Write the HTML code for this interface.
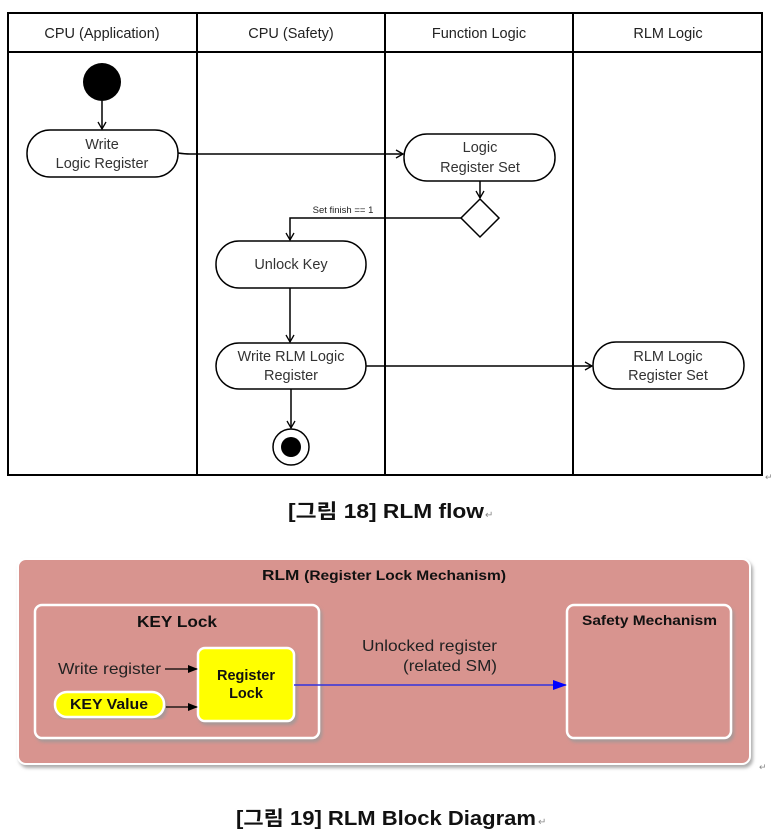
<!DOCTYPE html>
<html><head><meta charset="utf-8"><style>
html,body{margin:0;padding:0;background:#fff;width:773px;height:840px;overflow:hidden}
svg{display:block}
.t{font-family:"Liberation Sans","Noto Sans CJK KR",sans-serif}
</style></head><body>
<svg width="773" height="840" viewBox="0 0 773 840" xmlns="http://www.w3.org/2000/svg" class="t">
<defs>
<marker id="oa" markerWidth="10" markerHeight="10" refX="8" refY="5" orient="auto" markerUnits="userSpaceOnUse">
<path d="M1,1 L8,5 L1,9" fill="none" stroke="#000" stroke-width="1.3"/></marker>
<marker id="fa" markerWidth="10" markerHeight="8" refX="9" refY="4" orient="auto" markerUnits="userSpaceOnUse">
<path d="M0,0 L10,4 L0,8Z" fill="#000"/></marker>
<marker id="ba" markerWidth="14" markerHeight="10" refX="13" refY="5" orient="auto" markerUnits="userSpaceOnUse">
<path d="M0,0 L14,5 L0,10Z" fill="#0000ff"/></marker>
<filter id="sh" x="-5%" y="-5%" width="110%" height="115%"><feDropShadow dx="2" dy="3" stdDeviation="1.5" flood-color="#999" flood-opacity="0.8"/></filter>
</defs>
<g stroke="#000" stroke-width="2" fill="none">
<rect x="8" y="13" width="754" height="462"/>
<line x1="8" y1="52" x2="762" y2="52"/>
<line x1="197" y1="13" x2="197" y2="475"/>
<line x1="385" y1="13" x2="385" y2="475"/>
<line x1="573" y1="13" x2="573" y2="475"/>
</g>
<g font-size="14.5" fill="#222" text-anchor="middle">
<text x="102" y="38">CPU (Application)</text>
<text x="291" y="38">CPU (Safety)</text>
<text x="479" y="38">Function Logic</text>
<text x="668" y="38">RLM Logic</text>
</g>
<circle cx="102" cy="82" r="19" fill="#000"/>
<g stroke="#000" stroke-width="1.5" fill="none">
<line x1="102" y1="101" x2="102" y2="129" marker-end="url(#oa)"/>
<rect x="27" y="130" width="151" height="47" rx="23" fill="#fff"/>
<path d="M178,153 Q185,154 190,154 L403,154" marker-end="url(#oa)"/>
<rect x="404" y="134" width="151" height="47" rx="23" fill="#fff"/>
<line x1="480" y1="181" x2="480" y2="198" marker-end="url(#oa)"/>
<path d="M480,199 L499,218 L480,237 L461,218Z" fill="#fff"/>
<path d="M461,218 L290,218 L290,240" marker-end="url(#oa)"/>
<rect x="216" y="241" width="150" height="47" rx="23" fill="#fff"/>
<line x1="290" y1="288" x2="290" y2="342" marker-end="url(#oa)"/>
<rect x="216" y="343" width="150" height="46" rx="23" fill="#fff"/>
<line x1="366" y1="366" x2="592" y2="366" marker-end="url(#oa)"/>
<rect x="593" y="342" width="151" height="47" rx="23" fill="#fff"/>
<line x1="291" y1="389" x2="291" y2="428" marker-end="url(#oa)"/>
<circle cx="291" cy="447" r="18" fill="#fff"/>
</g>
<circle cx="291" cy="447" r="10" fill="#000"/>
<g font-size="14.5" fill="#333" text-anchor="middle">
<text x="102" y="149">Write</text>
<text x="102" y="168">Logic Register</text>
<text x="480" y="152">Logic</text>
<text x="480" y="172">Register Set</text>
<text x="291" y="269">Unlock Key</text>
<text x="291" y="361">Write RLM Logic</text>
<text x="291" y="380">Register</text>
<text x="668" y="361">RLM Logic</text>
<text x="668" y="380">Register Set</text>
</g>
<text x="343" y="213" font-size="9.5" fill="#222" text-anchor="middle">Set finish == 1</text>
<text x="288" y="518" font-size="20" font-weight="bold" fill="#111" textLength="196" lengthAdjust="spacingAndGlyphs">[그림 18] RLM flow</text>
<text x="765" y="480" font-size="9" fill="#888">↵</text>
<text x="485" y="518" font-size="10" fill="#888">↵</text>

<rect x="18" y="559" width="732" height="205" rx="8" fill="#d8948f" stroke="#fff" stroke-width="2" filter="url(#sh)"/>
<text x="262" y="580" font-size="15" font-weight="bold" fill="#111" textLength="244" lengthAdjust="spacingAndGlyphs">RLM <tspan font-size="13.5">(Register Lock Mechanism)</tspan></text>
<rect x="35" y="605" width="284" height="133" rx="7" fill="#d8948f" stroke="#fff" stroke-width="2.5" filter="url(#sh)"/>
<text x="137" y="627" font-size="16" font-weight="bold" fill="#111" textLength="80" lengthAdjust="spacingAndGlyphs">KEY Lock</text>
<rect x="567" y="605" width="164" height="133" rx="7" fill="#d8948f" stroke="#fff" stroke-width="2.5" filter="url(#sh)"/>
<text x="582" y="625" font-size="14" font-weight="bold" fill="#111" textLength="135" lengthAdjust="spacingAndGlyphs">Safety Mechanism</text>
<rect x="198" y="648" width="96" height="73" rx="7" fill="#ffff00" stroke="#fff" stroke-width="2.5" filter="url(#sh)"/>
<text x="246" y="680" font-size="14.5" font-weight="bold" text-anchor="middle" fill="#111">Register</text>
<text x="246" y="698" font-size="14.5" font-weight="bold" text-anchor="middle" fill="#111">Lock</text>
<rect x="55" y="692" width="109" height="25" rx="12" fill="#ffff00" stroke="#fff" stroke-width="2.5" filter="url(#sh)"/>
<text x="70" y="709" font-size="15" font-weight="bold" fill="#111" textLength="78" lengthAdjust="spacingAndGlyphs">KEY Value</text>
<text x="58" y="674" font-size="16" fill="#222" textLength="103" lengthAdjust="spacingAndGlyphs">Write register</text>
<line x1="165" y1="669" x2="197" y2="669" stroke="#000" stroke-width="1.2" marker-end="url(#fa)"/>
<line x1="166" y1="707" x2="197" y2="707" stroke="#000" stroke-width="1.2" marker-end="url(#fa)"/>
<line x1="294" y1="685" x2="566" y2="685" stroke="#3333dd" stroke-width="1.5" marker-end="url(#ba)"/>
<text x="362" y="651" font-size="16" fill="#222" textLength="135" lengthAdjust="spacingAndGlyphs">Unlocked register</text>
<text x="403" y="671" font-size="16" fill="#222" textLength="94" lengthAdjust="spacingAndGlyphs">(related SM)</text>
<text x="759" y="770" font-size="9" fill="#888">↵</text>
<text x="236" y="825" font-size="20" font-weight="bold" fill="#111" textLength="300" lengthAdjust="spacingAndGlyphs">[그림 19] RLM Block Diagram</text>
<text x="538" y="825" font-size="10" fill="#888">↵</text>
</svg>
</body></html>
